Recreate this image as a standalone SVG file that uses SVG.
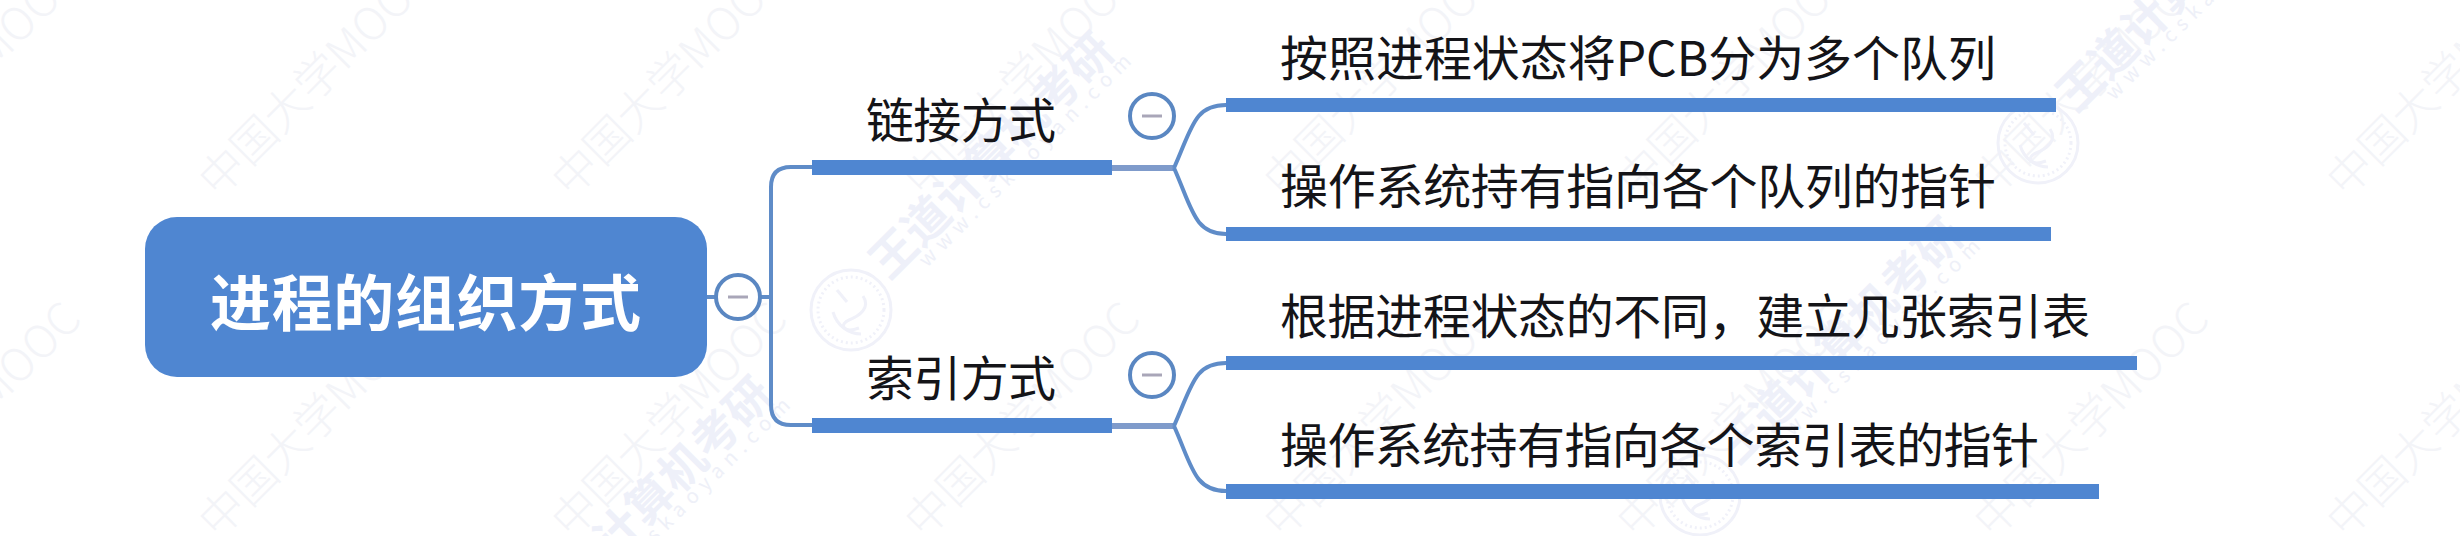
<svg xmlns="http://www.w3.org/2000/svg" width="2460" height="536" viewBox="0 0 2460 536">
<style>
text{font-family:"Noto Sans CJK SC","Noto Sans",sans-serif}
.t{font-size:48px;fill:#141418}
.b{font-size:48px;fill:#141418}
.r{font-size:61px;font-weight:700;fill:#fff}
.bar{fill:#4f86d1}
.wm{font-size:45px;font-weight:300;fill:#f3f4f8}
.wd{font-size:46px;font-weight:700;fill:#eef0f9}
.wu{font-size:20px;fill:#eef0f8;letter-spacing:7px}
.st{fill:none;stroke:#f0f1f9;stroke-width:3}
.c{fill:none;stroke:#5f8cc8;stroke-width:4}
.tail{fill:none;stroke:#7f9bcb;stroke-width:6}
.col{fill:#fff;stroke:#5a87c2;stroke-width:4}
.min{stroke:#a9a6b8;stroke-width:3}
</style>
<defs>
<text id="wm" class="wm" transform="rotate(-45)">中国大学MOOC</text>
<g id="wdg">
<text class="wd" transform="translate(38,-29) rotate(-45)">王道计算机考研</text>
<text class="wu" transform="translate(76,-42) rotate(-45)">www.cskaoyan.com</text>
<circle class="st" r="40"/><circle class="st" r="33" stroke-dasharray="2 3"/>
<path class="st" d="M-14 -20L-4 -8M12 -14C20 -2 8 6 -2 10C-12 14 -8 24 8 18M-18 2C-14 16 -2 24 10 24"/>
</g>
</defs>
<rect width="2460" height="536" fill="#fff"/>
<g id="watermarks">
<g transform="translate(22,14)">
<use href="#wm" transform="translate(-157,185)"/><use href="#wm" transform="translate(196,185)"/><use href="#wm" transform="translate(549,185)"/><use href="#wm" transform="translate(902,185)"/><use href="#wm" transform="translate(1261,185)"/><use href="#wm" transform="translate(1614,185)"/><use href="#wm" transform="translate(1971,185)"/><use href="#wm" transform="translate(2324,185)"/>
<use href="#wm" transform="translate(-157,526)"/><use href="#wm" transform="translate(196,526)"/><use href="#wm" transform="translate(549,526)"/><use href="#wm" transform="translate(902,526)"/><use href="#wm" transform="translate(1261,526)"/><use href="#wm" transform="translate(1614,526)"/><use href="#wm" transform="translate(1971,526)"/><use href="#wm" transform="translate(2324,526)"/>
</g>
<use href="#wdg" transform="translate(851,310)"/><use href="#wdg" transform="translate(510,654)"/><use href="#wdg" transform="translate(1700,495)"/><use href="#wdg" transform="translate(2038,143)"/>
</g>
<g id="connectors">
<path class="c" d="M707 297H771"/>
<path class="c" d="M812 167H791Q771 167 771 187V405Q771 425 791 425H812"/>
<path class="tail" d="M1112 168H1174"/>
<path class="tail" d="M1112 426H1174"/>
<path class="c" d="M1174 168C1192 128 1194 105 1226 105M1174 168C1192 208 1194 234 1226 234"/>
<path class="c" d="M1174 426C1192 386 1194 363 1226 363M1174 426C1192 466 1194 491 1226 491"/>
</g>
<g id="root">
<rect x="145" y="217" width="562" height="160" rx="32" fill="#4f86d1"/>
<text class="r" x="210" y="326" textLength="431" lengthAdjust="spacing">进程的组织方式</text>
<circle class="col" cx="738" cy="297" r="22"/><path class="min" d="M728 297H748"/>
</g>
<g id="branch-link">
<rect class="bar" x="812" y="160" width="300" height="15"/>
<text class="b" x="866" y="138" textLength="190" lengthAdjust="spacing">链接方式</text>
<circle class="col" cx="1152" cy="116" r="22"/><path class="min" d="M1142 116H1162"/>
</g>
<g id="branch-index">
<rect class="bar" x="812" y="418" width="300" height="15"/>
<text class="b" x="866" y="396" textLength="190" lengthAdjust="spacing">索引方式</text>
<circle class="col" cx="1152" cy="375" r="22"/><path class="min" d="M1142 375H1162"/>
</g>
<g id="leaf-1">
<rect class="bar" x="1226" y="98" width="830" height="14"/>
<text class="t" x="1280" y="76" textLength="716" lengthAdjust="spacing">按照进程状态将PCB分为多个队列</text>
</g>
<g id="leaf-2">
<rect class="bar" x="1226" y="227" width="825" height="14"/>
<text class="t" x="1280" y="204" textLength="716" lengthAdjust="spacing">操作系统持有指向各个队列的指针</text>
</g>
<g id="leaf-3">
<rect class="bar" x="1226" y="356" width="911" height="14"/>
<text class="t" x="1280" y="334" textLength="810" lengthAdjust="spacing">根据进程状态的不同，建立几张索引表</text>
</g>
<g id="leaf-4">
<rect class="bar" x="1226" y="484" width="873" height="15"/>
<text class="t" x="1280" y="463" textLength="759" lengthAdjust="spacing">操作系统持有指向各个索引表的指针</text>
</g>
</svg>
